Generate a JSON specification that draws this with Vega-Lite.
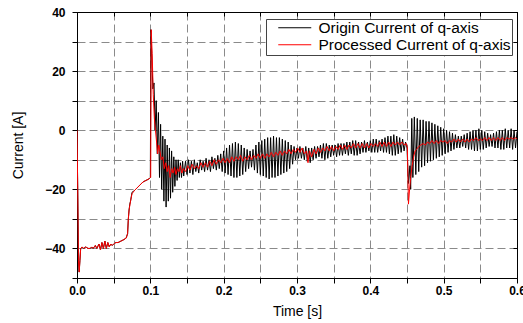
{
  "$schema": "https://vega.github.io/schema/vega-lite/v6.json",
  "width": 440,
  "height": 266,
  "autosize": "none",
  "padding": {"left": 77, "top": 12, "right": 6, "bottom": 45},
  "background": "white",
  "config": {
    "font": "Liberation Sans",
    "view": {"stroke": "black", "strokeWidth": 1},
    "axis": {
      "domainColor": "black",
      "tickColor": "black",
      "labelColor": "black",
      "titleColor": "black",
      "gridColor": "#8a8a8a",
      "gridDash": [8, 4],
      "gridWidth": 1,
      "labelFont": "Liberation Sans",
      "titleFont": "Liberation Sans"
    }
  },
  "datasets": {
    "origin": [
      {"t":0,"i":0},{"t":0.001,"i":-20},{"t":0.002,"i":-44},{"t":0.003,"i":-48},{"t":0.004,"i":-44},{"t":0.005,"i":-40},{"t":0.007,"i":-39.5},{"t":0.009,"i":-40},{"t":0.012,"i":-39.5},{"t":0.015,"i":-40},{"t":0.018,"i":-40},{"t":0.02,"i":-39.5},{"t":0.022,"i":-40},{"t":0.025,"i":-39},{"t":0.027,"i":-40},{"t":0.03,"i":-38.5},{"t":0.032,"i":-40.5},{"t":0.034,"i":-38},{"t":0.036,"i":-40},{"t":0.038,"i":-37.5},{"t":0.04,"i":-40},{"t":0.042,"i":-38},{"t":0.044,"i":-39.5},{"t":0.046,"i":-38.5},{"t":0.048,"i":-39},{"t":0.05,"i":-38.5},{"t":0.053,"i":-38},{"t":0.056,"i":-38},{"t":0.06,"i":-37.5},{"t":0.064,"i":-37},{"t":0.067,"i":-36.5},{"t":0.069,"i":-35},{"t":0.07,"i":-30},{"t":0.071,"i":-27},{"t":0.072,"i":-25},{"t":0.073,"i":-24},{"t":0.075,"i":-21},{"t":0.078,"i":-20.5},{"t":0.082,"i":-19.5},{"t":0.086,"i":-18.5},{"t":0.09,"i":-17.5},{"t":0.094,"i":-17},{"t":0.098,"i":-16.5},{"t":0.1,"i":-16},
      {"t":0.1008,"i":34},{"t":0.1035,"i":14},{"t":0.105,"i":16},{"t":0.1065,"i":0},{"t":0.108,"i":10},{"t":0.1095,"i":-8},{"t":0.111,"i":6},{"t":0.1125,"i":-16},{"t":0.114,"i":2},{"t":0.1155,"i":-20},{"t":0.117,"i":-2},{"t":0.1185,"i":-24},{"t":0.12,"i":-3},{"t":0.1215,"i":-26},{"t":0.123,"i":-5},{"t":0.1245,"i":-24},{"t":0.126,"i":-6},{"t":0.1275,"i":-23},{"t":0.129,"i":-7},{"t":0.1305,"i":-21},{"t":0.132,"i":-9},{"t":0.1335,"i":-19},{"t":0.135,"i":-10},{"t":0.1365,"i":-17},{"t":0.138,"i":-10},{"t":0.1395,"i":-16},{"t":0.141,"i":-11},{"t":0.1425,"i":-16},{"t":0.144,"i":-10.5},{"t":0.1455,"i":-15.5},
      {"t":0.148,"i":-10.5},{"t":0.15,"i":-15},{"t":0.152,"i":-10},{"t":0.154,"i":-14.5},{"t":0.156,"i":-10.5},{"t":0.158,"i":-15},{"t":0.16,"i":-10},{"t":0.162,"i":-14},{"t":0.164,"i":-11},{"t":0.166,"i":-14.5},{"t":0.168,"i":-10},{"t":0.17,"i":-13.5},{"t":0.172,"i":-10.5},{"t":0.174,"i":-14},{"t":0.176,"i":-9.5},{"t":0.178,"i":-13.5},{"t":0.18,"i":-10},{"t":0.182,"i":-14},{"t":0.184,"i":-9},{"t":0.186,"i":-13},{"t":0.188,"i":-9.5},{"t":0.19,"i":-13.5},{"t":0.192,"i":-8.5},{"t":0.194,"i":-13},{"t":0.196,"i":-8},{"t":0.198,"i":-14},
      {"t":0.2,"i":-7},{"t":0.202,"i":-14.5},{"t":0.204,"i":-6},{"t":0.206,"i":-15},{"t":0.208,"i":-5},{"t":0.21,"i":-15.5},{"t":0.212,"i":-4.5},{"t":0.214,"i":-16},{"t":0.216,"i":-4},{"t":0.218,"i":-16},{"t":0.22,"i":-4.5},{"t":0.222,"i":-15.5},{"t":0.224,"i":-5},{"t":0.226,"i":-15},{"t":0.228,"i":-6},{"t":0.23,"i":-14},{"t":0.232,"i":-6.5},{"t":0.234,"i":-13},{"t":0.236,"i":-7},{"t":0.238,"i":-12.5},{"t":0.24,"i":-6.5},{"t":0.242,"i":-13.5},{"t":0.244,"i":-5},{"t":0.246,"i":-14.5},{"t":0.248,"i":-4},{"t":0.25,"i":-15},{"t":0.252,"i":-3.5},{"t":0.254,"i":-15.5},{"t":0.256,"i":-3},{"t":0.258,"i":-16},{"t":0.26,"i":-2.5},{"t":0.262,"i":-16.5},{"t":0.264,"i":-2.5},{"t":0.266,"i":-16},{"t":0.268,"i":-2},{"t":0.27,"i":-16},{"t":0.272,"i":-2.5},{"t":0.274,"i":-15.5},{"t":0.276,"i":-2.5},{"t":0.278,"i":-15},{"t":0.28,"i":-3},{"t":0.282,"i":-14.5},{"t":0.284,"i":-3.5},{"t":0.286,"i":-14},{"t":0.288,"i":-4},{"t":0.29,"i":-13},{"t":0.292,"i":-5},{"t":0.294,"i":-11.5},{"t":0.296,"i":-5.5},{"t":0.298,"i":-10},
      {"t":0.3,"i":-6},{"t":0.302,"i":-9.5},{"t":0.304,"i":-5.5},{"t":0.306,"i":-9.5},{"t":0.308,"i":-6},{"t":0.31,"i":-10},{"t":0.312,"i":-5.5},{"t":0.314,"i":-10.5},{"t":0.316,"i":-6},{"t":0.318,"i":-11},{"t":0.32,"i":-6},{"t":0.322,"i":-10},{"t":0.324,"i":-5.5},{"t":0.326,"i":-9.5},{"t":0.328,"i":-5.5},{"t":0.33,"i":-9},{"t":0.332,"i":-5},{"t":0.334,"i":-9.5},{"t":0.336,"i":-4.5},{"t":0.338,"i":-10},{"t":0.34,"i":-4.5},{"t":0.342,"i":-9.5},{"t":0.344,"i":-5},{"t":0.346,"i":-9},{"t":0.348,"i":-5},{"t":0.35,"i":-8.5},{"t":0.352,"i":-5},{"t":0.354,"i":-9},{"t":0.356,"i":-4.5},{"t":0.358,"i":-8.5},{"t":0.36,"i":-4.5},{"t":0.362,"i":-8.5},{"t":0.364,"i":-4.5},{"t":0.366,"i":-8},{"t":0.368,"i":-4},{"t":0.37,"i":-8.5},{"t":0.372,"i":-4},{"t":0.374,"i":-8},{"t":0.376,"i":-3.5},{"t":0.378,"i":-8.5},{"t":0.38,"i":-3.5},{"t":0.382,"i":-8.5},{"t":0.384,"i":-4},{"t":0.386,"i":-8},{"t":0.388,"i":-4},{"t":0.39,"i":-7.5},{"t":0.392,"i":-3.5},{"t":0.394,"i":-7.5},{"t":0.396,"i":-4},{"t":0.398,"i":-7},
      {"t":0.4,"i":-3.5},{"t":0.402,"i":-7.5},{"t":0.404,"i":-3},{"t":0.406,"i":-7.5},{"t":0.408,"i":-3},{"t":0.41,"i":-7.5},{"t":0.412,"i":-3.5},{"t":0.414,"i":-7},{"t":0.416,"i":-3},{"t":0.418,"i":-7.5},{"t":0.42,"i":-2.5},{"t":0.422,"i":-7.5},{"t":0.424,"i":-2},{"t":0.426,"i":-8},{"t":0.428,"i":-2},{"t":0.43,"i":-8.5},{"t":0.432,"i":-1.5},{"t":0.434,"i":-8.5},{"t":0.436,"i":-2},{"t":0.438,"i":-8},{"t":0.44,"i":-2.5},{"t":0.442,"i":-7.5},{"t":0.444,"i":-3},{"t":0.446,"i":-7},{"t":0.448,"i":-4},{"t":0.45,"i":-6},{"t":0.452,"i":-18},{"t":0.454,"i":-12},{"t":0.455,"i":-20},{"t":0.4565,"i":4},{"t":0.458,"i":-16},{"t":0.46,"i":4.5},{"t":0.462,"i":-15},{"t":0.464,"i":4},{"t":0.466,"i":-14},{"t":0.468,"i":3.5},{"t":0.47,"i":-12.5},{"t":0.472,"i":3.5},{"t":0.474,"i":-12},{"t":0.476,"i":3},{"t":0.478,"i":-11},{"t":0.48,"i":3},{"t":0.482,"i":-10.5},{"t":0.484,"i":2.5},{"t":0.486,"i":-10},{"t":0.488,"i":2},{"t":0.49,"i":-9.5},{"t":0.492,"i":1.5},{"t":0.494,"i":-9},{"t":0.496,"i":1},{"t":0.498,"i":-8.5},
      {"t":0.5,"i":0.5},{"t":0.502,"i":-8},{"t":0.504,"i":0},{"t":0.506,"i":-7.5},{"t":0.508,"i":-0.5},{"t":0.51,"i":-7},{"t":0.512,"i":-1},{"t":0.514,"i":-6.5},{"t":0.516,"i":-1.5},{"t":0.518,"i":-6},{"t":0.52,"i":-2},{"t":0.522,"i":-6},{"t":0.524,"i":-2},{"t":0.526,"i":-5.5},{"t":0.528,"i":-1.5},{"t":0.53,"i":-6},{"t":0.532,"i":-1},{"t":0.534,"i":-6.5},{"t":0.536,"i":-0.5},{"t":0.538,"i":-6.5},{"t":0.54,"i":0},{"t":0.542,"i":-7},{"t":0.544,"i":0},{"t":0.546,"i":-7},{"t":0.548,"i":0.5},{"t":0.55,"i":-6.5},{"t":0.552,"i":0},{"t":0.554,"i":-6.5},{"t":0.556,"i":-0.5},{"t":0.558,"i":-6},{"t":0.56,"i":-1},{"t":0.562,"i":-5.5},{"t":0.564,"i":-1.5},{"t":0.566,"i":-5.5},{"t":0.568,"i":-1},{"t":0.57,"i":-6},{"t":0.572,"i":-0.5},{"t":0.574,"i":-6},{"t":0.576,"i":0},{"t":0.578,"i":-6.5},{"t":0.58,"i":0},{"t":0.582,"i":-6.5},{"t":0.584,"i":0.5},{"t":0.586,"i":-6},{"t":0.588,"i":0},{"t":0.59,"i":-6},{"t":0.592,"i":0.5},{"t":0.594,"i":-6.5},{"t":0.596,"i":0},{"t":0.598,"i":-6},{"t":0.6,"i":-0.5}
    ],
    "processed": [
      {"t":0,"i":0},{"t":0.001,"i":-20},{"t":0.002,"i":-44},{"t":0.003,"i":-48},{"t":0.004,"i":-44},{"t":0.005,"i":-40},{"t":0.007,"i":-39.5},{"t":0.009,"i":-40},{"t":0.012,"i":-39.5},{"t":0.015,"i":-40},{"t":0.018,"i":-40},{"t":0.02,"i":-39.5},{"t":0.022,"i":-40},{"t":0.025,"i":-39},{"t":0.027,"i":-40},{"t":0.03,"i":-38.5},{"t":0.032,"i":-40.5},{"t":0.034,"i":-38},{"t":0.036,"i":-40},{"t":0.038,"i":-37.5},{"t":0.04,"i":-40},{"t":0.042,"i":-38},{"t":0.044,"i":-39.5},{"t":0.046,"i":-38.5},{"t":0.048,"i":-39},{"t":0.05,"i":-38.5},{"t":0.053,"i":-38},{"t":0.056,"i":-38},{"t":0.06,"i":-37.5},{"t":0.064,"i":-37},{"t":0.067,"i":-36.5},{"t":0.069,"i":-35},{"t":0.07,"i":-30},{"t":0.071,"i":-27},{"t":0.073,"i":-24},{"t":0.075,"i":-21.5},{"t":0.078,"i":-20.5},{"t":0.082,"i":-19.5},{"t":0.086,"i":-18.5},{"t":0.09,"i":-17.5},{"t":0.094,"i":-17},{"t":0.098,"i":-16.5},{"t":0.1,"i":-16},
      {"t":0.1005,"i":-16},{"t":0.1012,"i":34},{"t":0.1025,"i":26},{"t":0.104,"i":12},{"t":0.1055,"i":4},{"t":0.107,"i":0},{"t":0.1085,"i":-4},{"t":0.11,"i":-8},{"t":0.1115,"i":-5},{"t":0.113,"i":-7},{"t":0.115,"i":-10},{"t":0.117,"i":-9},{"t":0.119,"i":-13},{"t":0.121,"i":-11},{"t":0.123,"i":-14},{"t":0.125,"i":-12},{"t":0.127,"i":-16},{"t":0.129,"i":-13},{"t":0.131,"i":-14.5},{"t":0.133,"i":-12.5},{"t":0.135,"i":-15},{"t":0.137,"i":-13},{"t":0.139,"i":-14},{"t":0.141,"i":-12},{"t":0.143,"i":-14.5},{"t":0.145,"i":-13},{"t":0.148,"i":-14},{"t":0.151,"i":-12},{"t":0.154,"i":-13.5},{"t":0.157,"i":-11.5},{"t":0.16,"i":-13},{"t":0.163,"i":-12},{"t":0.166,"i":-13},{"t":0.169,"i":-11},{"t":0.172,"i":-12.5},{"t":0.175,"i":-11},{"t":0.178,"i":-12.5},{"t":0.181,"i":-10.5},{"t":0.184,"i":-12},{"t":0.187,"i":-10},{"t":0.19,"i":-11.5},{"t":0.193,"i":-10},{"t":0.196,"i":-11},{"t":0.199,"i":-9.5},
      {"t":0.202,"i":-11},{"t":0.205,"i":-9.5},{"t":0.208,"i":-11},{"t":0.211,"i":-9},{"t":0.214,"i":-10.5},{"t":0.217,"i":-9},{"t":0.22,"i":-10},{"t":0.223,"i":-8.5},{"t":0.226,"i":-10.5},{"t":0.229,"i":-9},{"t":0.232,"i":-10},{"t":0.235,"i":-8.5},{"t":0.238,"i":-10},{"t":0.241,"i":-8.5},{"t":0.244,"i":-9.5},{"t":0.247,"i":-8},{"t":0.25,"i":-9.5},{"t":0.253,"i":-8},{"t":0.256,"i":-9.5},{"t":0.259,"i":-8},{"t":0.262,"i":-9},{"t":0.265,"i":-7.5},{"t":0.268,"i":-9},{"t":0.271,"i":-7.5},{"t":0.274,"i":-8.5},{"t":0.277,"i":-7},{"t":0.28,"i":-8.5},{"t":0.283,"i":-7},{"t":0.286,"i":-8},{"t":0.289,"i":-6.5},{"t":0.292,"i":-8},{"t":0.295,"i":-6.5},{"t":0.298,"i":-7.5},
      {"t":0.301,"i":-6},{"t":0.304,"i":-7.5},{"t":0.307,"i":-6},{"t":0.31,"i":-8},{"t":0.313,"i":-7},{"t":0.315,"i":-11},{"t":0.317,"i":-7},{"t":0.32,"i":-9},{"t":0.323,"i":-6.5},{"t":0.326,"i":-8},{"t":0.329,"i":-6},{"t":0.332,"i":-7.5},{"t":0.335,"i":-6},{"t":0.338,"i":-7},{"t":0.341,"i":-5.5},{"t":0.344,"i":-7},{"t":0.347,"i":-5.5},{"t":0.35,"i":-7},{"t":0.353,"i":-5.5},{"t":0.356,"i":-6.5},{"t":0.359,"i":-5},{"t":0.362,"i":-6.5},{"t":0.365,"i":-5},{"t":0.368,"i":-6.5},{"t":0.371,"i":-5},{"t":0.374,"i":-6},{"t":0.377,"i":-4.5},{"t":0.38,"i":-6},{"t":0.383,"i":-4.5},{"t":0.386,"i":-6},{"t":0.389,"i":-4.5},{"t":0.392,"i":-6},{"t":0.395,"i":-4.5},{"t":0.398,"i":-6},
      {"t":0.401,"i":-4.5},{"t":0.404,"i":-5.5},{"t":0.407,"i":-4.5},{"t":0.41,"i":-5.5},{"t":0.413,"i":-4},{"t":0.416,"i":-5.5},{"t":0.419,"i":-4},{"t":0.422,"i":-5.5},{"t":0.425,"i":-4},{"t":0.428,"i":-5.5},{"t":0.431,"i":-4},{"t":0.434,"i":-5},{"t":0.437,"i":-4},{"t":0.44,"i":-5},{"t":0.443,"i":-4},{"t":0.446,"i":-5},{"t":0.449,"i":-4.5},{"t":0.4505,"i":-6},{"t":0.452,"i":-25},{"t":0.4535,"i":-20},{"t":0.455,"i":-16},{"t":0.457,"i":-12},{"t":0.459,"i":-9},{"t":0.461,"i":-7},{"t":0.463,"i":-6.5},{"t":0.466,"i":-5.5},{"t":0.469,"i":-5},{"t":0.472,"i":-4.5},{"t":0.475,"i":-5},{"t":0.478,"i":-4},{"t":0.481,"i":-4.5},{"t":0.484,"i":-3.5},{"t":0.487,"i":-4.5},{"t":0.49,"i":-3.5},{"t":0.493,"i":-4.5},{"t":0.496,"i":-3.5},{"t":0.499,"i":-4},
      {"t":0.502,"i":-3.5},{"t":0.505,"i":-4.5},{"t":0.508,"i":-3.5},{"t":0.511,"i":-4},{"t":0.514,"i":-3},{"t":0.517,"i":-4},{"t":0.52,"i":-3},{"t":0.523,"i":-4},{"t":0.526,"i":-3},{"t":0.529,"i":-4},{"t":0.532,"i":-3},{"t":0.535,"i":-4},{"t":0.538,"i":-3},{"t":0.541,"i":-3.5},{"t":0.544,"i":-2.5},{"t":0.547,"i":-3.5},{"t":0.55,"i":-3},{"t":0.553,"i":-3.5},{"t":0.556,"i":-2.5},{"t":0.559,"i":-3.5},{"t":0.562,"i":-2.5},{"t":0.565,"i":-3.5},{"t":0.568,"i":-2.5},{"t":0.571,"i":-3.5},{"t":0.574,"i":-2.5},{"t":0.577,"i":-3.5},{"t":0.58,"i":-2.5},{"t":0.583,"i":-3.5},{"t":0.586,"i":-2.5},{"t":0.589,"i":-3},{"t":0.592,"i":-2.5},{"t":0.595,"i":-3},{"t":0.598,"i":-2.5},{"t":0.6,"i":-3}
    ]
  },
  "layer": [
    {
      "data": {"name": "origin"},
      "mark": {"type": "line", "strokeWidth": 1, "clip": true},
      "encoding": {
        "x": {
          "field": "t", "type": "quantitative",
          "scale": {"domain": [0, 0.6], "nice": false, "zero": false},
          "axis": {
            "orient": "bottom",
            "title": "Time [s]",
            "titleFontSize": 14,
            "titleFontWeight": "normal",
            "titlePadding": 8,
            "values": [0, 0.05, 0.1, 0.15, 0.2, 0.25, 0.3, 0.35, 0.4, 0.45, 0.5, 0.55, 0.6],
            "labelExpr": "abs(datum.value*10 - round(datum.value*10)) < 0.001 ? format(datum.value, '.1f') : ''",
            "labelFontSize": 12,
            "labelFontWeight": "bold",
            "labelPadding": 2,
            "labelFlush": false,
            "tickSize": 5,
            "grid": true
          }
        },
        "y": {
          "field": "i", "type": "quantitative",
          "scale": {"domain": [-50, 40], "nice": false, "zero": false},
          "axis": {
            "orient": "left",
            "title": "Current [A]",
            "titleFontSize": 14,
            "titleFontWeight": "normal",
            "titlePadding": 19,
            "values": [-50, -40, -30, -20, -10, 0, 10, 20, 30, 40],
            "labelExpr": "datum.value % 20 == 0 ? format(datum.value, 'd') : ''",
            "labelFontSize": 12,
            "labelFontWeight": "bold",
            "labelPadding": 7,
            "labelFlush": false,
            "tickSize": 5,
            "grid": true
          }
        },
        "color": {
          "datum": "Origin Current of q-axis",
          "type": "nominal",
          "scale": {"domain": ["Origin Current of q-axis", "Processed Current of q-axis"], "range": ["black", "red"]},
          "legend": {
            "title": null,
            "orient": "none",
            "legendX": 189,
            "legendY": 7,
            "symbolType": "M-3,0L3,0",
            "symbolSize": 121,
            "symbolStrokeWidth": 1,
            "symbolOffset": 20,
            "labelFontSize": 15.5,
            "labelFont": "Liberation Sans",
            "labelColor": "black",
            "labelOffset": 16,
            "labelLimit": 0,
            "padding": 1,
            "rowPadding": 0,
            "strokeColor": "#444",
            "fillColor": "white"
          }
        }
      }
    },
    {
      "data": {"name": "processed"},
      "mark": {"type": "line", "strokeWidth": 1, "clip": true},
      "encoding": {
        "x": {
          "field": "t", "type": "quantitative",
          "axis": {
            "orient": "top",
            "title": null,
            "values": [0, 0.05, 0.1, 0.15, 0.2, 0.25, 0.3, 0.35, 0.4, 0.45, 0.5, 0.55, 0.6],
            "labels": false,
            "grid": false,
            "tickSize": -4
          }
        },
        "y": {
          "field": "i", "type": "quantitative",
          "axis": {
            "orient": "right",
            "title": null,
            "values": [-50, -40, -30, -20, -10, 0, 10, 20, 30, 40],
            "labels": false,
            "grid": false,
            "tickSize": -4
          }
        },
        "color": {"datum": "Processed Current of q-axis", "type": "nominal"}
      }
    }
  ],
  "resolve": {"axis": {"x": "independent", "y": "independent"}}
}
